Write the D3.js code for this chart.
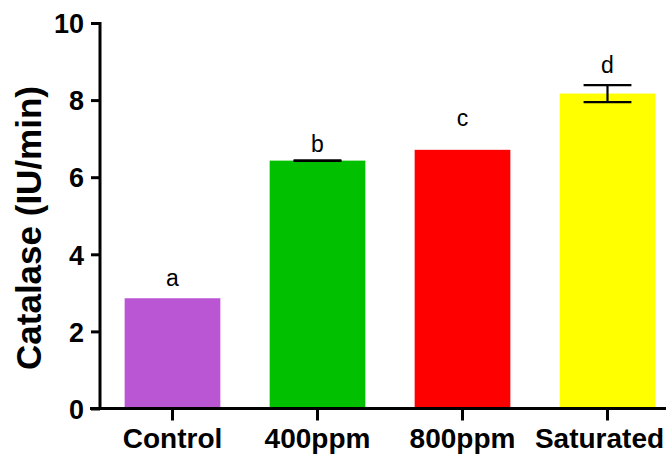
<!DOCTYPE html>
<html><head><meta charset="utf-8">
<script src="https://cdn.jsdelivr.net/npm/d3@7"></script>
<style>body{margin:0;background:#fff}svg{display:block}</style>
</head><body>
<svg id="c" width="670" height="454"></svg>
<script>
const categories = ["Control", "400ppm", "800ppm", "Saturated"];
const values = [2.86, 6.43, 6.71, 8.17];
const errors = [0, 0.01, 0, 0.22];
const letters = ["a", "b", "c", "d"];
const letterY = [3.18, 6.65, 7.32, 8.70];
const colors = ["#BA55D3", "#00C000", "#FF0000", "#FFFF00"];
const yTicks = [0, 2, 4, 6, 8, 10];

const svg = d3.select("#c");
const x = d3.scaleBand().domain(categories).range([100, 680]).paddingInner(0.34).paddingOuter(0.17);
const y = d3.scaleLinear().domain([0, 10]).range([408.5, 23]);

// bars
svg.selectAll("rect.bar").data(categories).enter().append("rect")
  .attr("x", d => x(d)).attr("width", x.bandwidth())
  .attr("y", (d, i) => y(values[i])).attr("height", (d, i) => y(0) - y(values[i]))
  .attr("fill", (d, i) => colors[i]);

// error bars
const capW = x.bandwidth() / 2;
categories.forEach((c, i) => {
  if (!errors[i]) return;
  const cx = x(c) + x.bandwidth() / 2;
  const g = svg.append("g").attr("stroke", "#000").attr("stroke-width", 2.2);
  g.append("line").attr("x1", cx).attr("x2", cx).attr("y1", y(values[i] + errors[i])).attr("y2", y(values[i] - errors[i]));
  g.append("line").attr("x1", cx - capW / 2).attr("x2", cx + capW / 2).attr("y1", y(values[i] + errors[i])).attr("y2", y(values[i] + errors[i]));
  g.append("line").attr("x1", cx - capW / 2).attr("x2", cx + capW / 2).attr("y1", y(values[i] - errors[i])).attr("y2", y(values[i] - errors[i]));
});

// letters
svg.selectAll("text.let").data(categories).enter().append("text")
  .attr("x", d => x(d) + x.bandwidth() / 2).attr("y", (d, i) => y(letterY[i]))
  .attr("text-anchor", "middle").attr("font-family", "Liberation Sans, Arial, sans-serif")
  .attr("font-size", 23).attr("fill", "#000").text((d, i) => letters[i]);

// y axis
const ya = svg.append("g").attr("transform", "translate(100,0)")
  .call(d3.axisLeft(y).tickValues(yTicks).tickSize(9).tickSizeOuter(0).tickPadding(7));
ya.select(".domain").attr("stroke-width", 3).attr("d", `M0,${y(10)-1}V${y(0)}`);
ya.selectAll(".tick line").attr("stroke-width", 3);
ya.selectAll(".tick text").attr("font-family", "Liberation Sans, Arial, sans-serif")
  .attr("font-weight", "bold").attr("font-size", 27).attr("fill", "#000").attr("dy", "0.36em");

// x axis
const xa = svg.append("g").attr("transform", `translate(0,${y(0)})`)
  .call(d3.axisBottom(x).tickSize(12).tickSizeOuter(0).tickPadding(8));
xa.select(".domain").attr("stroke-width", 3).attr("d", "M90,0H666");
xa.selectAll(".tick line").attr("stroke-width", 3);
xa.selectAll(".tick text").attr("font-family", "Liberation Sans, Arial, sans-serif")
  .attr("font-weight", "bold").attr("font-size", 28).attr("fill", "#000");
// keep the last label inside the frame, as in the reference
xa.selectAll(".tick text").filter(d => d === categories[categories.length - 1]).attr("dx", -8);

// y title
svg.append("text").attr("transform", "translate(41,228) rotate(-90)")
  .attr("text-anchor", "middle").attr("font-family", "Liberation Sans, Arial, sans-serif")
  .attr("font-weight", "bold").attr("font-size", 35).attr("fill", "#000")
  .text("Catalase (IU/min)");
</script>
</body></html>
